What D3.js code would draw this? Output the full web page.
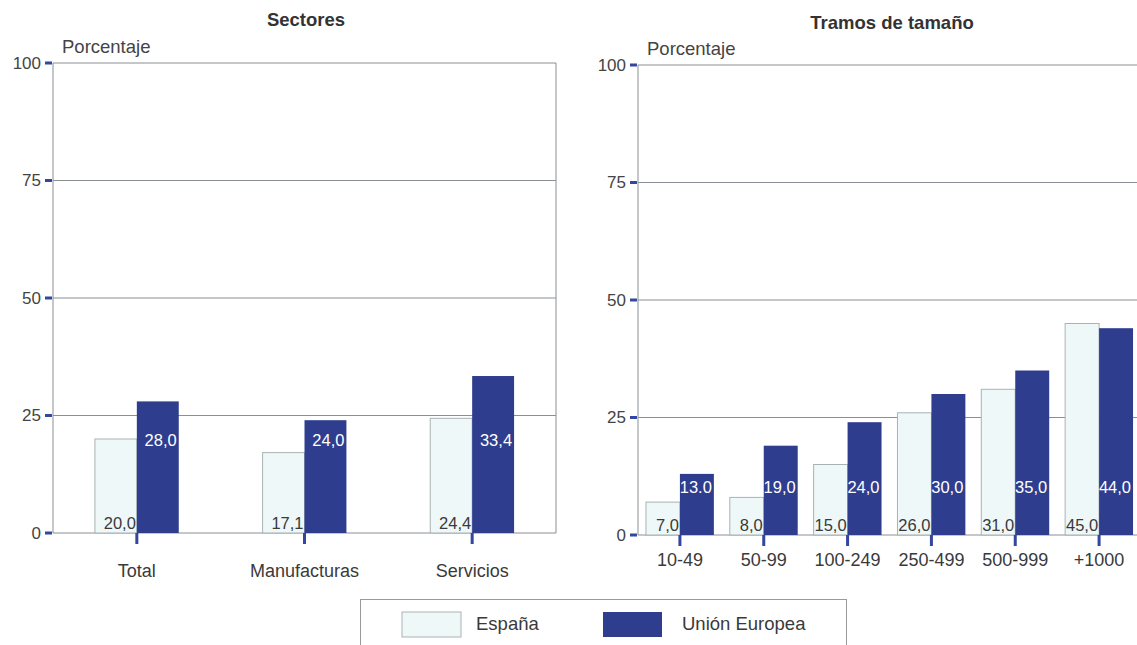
<!DOCTYPE html>
<html>
<head>
<meta charset="utf-8">
<script src="https://cdn.jsdelivr.net/npm/d3@7/dist/d3.min.js"></script>
<style>
  body { margin: 0; background: #fff; }
  svg { display: block; font-family: Arial, "Liberation Sans", sans-serif; }
</style>
</head>
<body>
<svg id="chart" width="1137" height="645"></svg>
<script>
// Porcentaje de empresas: España frente a Unión Europea
const sectorCategories = ["Total", "Manufacturas", "Servicios"];
const sectorSpain = [20.0, 17.1, 24.4];
const sectorEU = [28.0, 24.0, 33.4];

const sizeCategories = ["10-49", "50-99", "100-249", "250-499", "500-999", "+1000"];
const sizeSpain = [7.0, 8.0, 15.0, 26.0, 31.0, 45.0];
const sizeEU = [13.0, 19.0, 24.0, 30.0, 35.0, 44.0];

const yTicks = [0, 25, 50, 75, 100];
const seriesNames = ["España", "Unión Europea"];

const SPAIN_FILL = "#eef8f8";
const SPAIN_STROKE = "#a9b3b3";
const EU_FILL = "#2e3d8d";
const GRID = "#8a8f96";
const TICK_BLUE = "#3346a0";
const TEXT = "#3a3a3a";

const svg = d3.select("#chart");
const fmt = v => d3.format(".1f")(v).replace(".", ",");

function panel(opts) {
  const { title, titleX, titleY, left, right, top, bottom, categories, spain, eu,
          pairFrac, catLabelY, euLabelY, spainLabelY, drawRight, decimalDot } = opts;
  const g = svg.append("g");
  const y = d3.scaleLinear().domain([0, 100]).range([bottom, top]);
  const x = d3.scaleBand().domain(categories).range([left, right]).paddingInner(0).paddingOuter(0);
  const barW = x.bandwidth() * pairFrac / 2;

  // title
  g.append("text").attr("x", titleX).attr("y", titleY)
    .attr("text-anchor", "middle").attr("font-weight", "bold")
    .attr("font-size", 18.5).attr("fill", "#333").text(title);

  // unit label
  g.append("text").attr("x", left + 9).attr("y", top - 10)
    .attr("font-size", 18.5).attr("fill", "#444").text("Porcentaje");

  // horizontal grid lines
  g.selectAll("line.grid").data(yTicks.filter(t => t > 0)).join("line")
    .attr("x1", left).attr("x2", right)
    .attr("y1", d => y(d)).attr("y2", d => y(d))
    .attr("stroke", GRID).attr("stroke-width", 1);

  // frame: left side, bottom, optional right side
  g.append("line").attr("x1", left).attr("x2", left).attr("y1", top).attr("y2", bottom)
    .attr("stroke", GRID).attr("stroke-width", 1);
  g.append("line").attr("x1", left).attr("x2", right).attr("y1", bottom).attr("y2", bottom)
    .attr("stroke", GRID).attr("stroke-width", 1);
  if (drawRight) {
    g.append("line").attr("x1", right).attr("x2", right).attr("y1", top).attr("y2", bottom)
      .attr("stroke", GRID).attr("stroke-width", 1);
  }

  // y axis ticks and labels
  const yAxis = d3.axisLeft(y).tickValues(yTicks).tickSize(0).tickPadding(12);
  const ya = g.append("g").attr("transform", `translate(${left},0)`).call(yAxis);
  ya.select(".domain").remove();
  ya.selectAll("text").attr("font-size", 17).attr("fill", "#444")
    .attr("font-family", "Arial, 'Liberation Sans', sans-serif");
  g.selectAll("rect.ytick").data(yTicks).join("rect")
    .attr("x", left - 8).attr("y", d => y(d) - 1.5).attr("width", 7).attr("height", 3)
    .attr("fill", TICK_BLUE);

  // bars
  const groups = g.selectAll("g.cat").data(categories).join("g")
    .attr("transform", c => `translate(${x(c) + x.bandwidth() / 2},0)`);

  groups.append("rect")
    .attr("x", -barW).attr("width", barW)
    .attr("y", (c, i) => y(spain[i])).attr("height", (c, i) => bottom - y(spain[i]))
    .attr("fill", SPAIN_FILL).attr("stroke", SPAIN_STROKE).attr("stroke-width", 1);
  groups.append("rect")
    .attr("x", 0).attr("width", barW)
    .attr("y", (c, i) => y(eu[i])).attr("height", (c, i) => bottom - y(eu[i]))
    .attr("fill", EU_FILL);

  // value labels
  groups.append("text")
    .attr("x", -1).attr("y", spainLabelY).attr("text-anchor", "end")
    .attr("font-size", 16.5).attr("fill", TEXT)
    .text((c, i) => fmt(spain[i]));
  groups.append("text")
    .attr("x", barW - 2).attr("y", euLabelY).attr("text-anchor", "end")
    .attr("font-size", 16.5).attr("fill", "#fff")
    .text((c, i) => decimalDot && i === 0 ? d3.format(".1f")(eu[i]) : fmt(eu[i]));

  // x ticks
  groups.append("rect").attr("x", -1.5).attr("y", bottom).attr("width", 3).attr("height", 11)
    .attr("fill", TICK_BLUE);

  // category labels
  groups.append("text").attr("x", 0).attr("y", catLabelY).attr("text-anchor", "middle")
    .attr("font-size", 18).attr("fill", TEXT).text(c => c);
}

panel({
  title: "Sectores", titleX: 306, titleY: 26,
  left: 53, right: 556, top: 63, bottom: 533,
  categories: sectorCategories, spain: sectorSpain, eu: sectorEU,
  pairFrac: 0.5, catLabelY: 577, euLabelY: 446, spainLabelY: 529, drawRight: true
});

panel({
  title: "Tramos de tamaño", titleX: 892, titleY: 29,
  left: 638, right: 1141, top: 65, bottom: 535,
  categories: sizeCategories, spain: sizeSpain, eu: sizeEU,
  pairFrac: 0.81, catLabelY: 566, euLabelY: 493, spainLabelY: 531, drawRight: false,
  decimalDot: true
});

// legend
const legend = svg.append("g");
legend.append("rect").attr("x", 360.5).attr("y", 599.5).attr("width", 486).attr("height", 60)
  .attr("fill", "none").attr("stroke", "#9a9a9a").attr("stroke-width", 1);
const legendItems = [
  { name: seriesNames[0], fill: SPAIN_FILL, stroke: SPAIN_STROKE, sx: 402, tx: 476 },
  { name: seriesNames[1], fill: EU_FILL, stroke: "none", sx: 603, tx: 682 }
];
legendItems.forEach(it => {
  legend.append("rect").attr("x", it.sx).attr("y", 612).attr("width", 59).attr("height", 25)
    .attr("fill", it.fill).attr("stroke", it.stroke);
  legend.append("text").attr("x", it.tx).attr("y", 630).attr("font-size", 18.5)
    .attr("fill", TEXT).text(it.name);
});
</script>
</body>
</html>
